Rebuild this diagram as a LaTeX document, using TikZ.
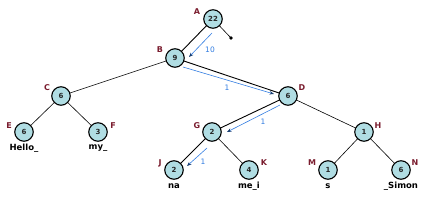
\documentclass[tikz,border=0pt]{standalone}
\usepackage{fontspec}
\setmainfont{DejaVu Sans}
\usetikzlibrary{arrows.meta}
\definecolor{nodefill}{RGB}{176,221,227}
\definecolor{lblred}{RGB}{122,28,46}
\definecolor{arrblue}{RGB}{50,125,225}
\begin{document}
\begin{tikzpicture}[x=1pt,y=-1pt,
  tnode/.style={circle,draw=black,line width=1.1pt,fill=nodefill,minimum size=18.5pt,inner sep=0pt,
     font=\fontsize{7}{8}\selectfont\bfseries,text=black!85},
  lbl/.style={font=\fontsize{8}{9}\selectfont\bfseries,text=lblred,inner sep=0pt},
  word/.style={font=\fontsize{8.5}{9}\selectfont\bfseries,inner sep=0pt},
  edge/.style={draw=black,line width=0.6pt},
  pathedge/.style={draw=black,line width=0.9pt},
  barrow/.style={draw=arrblue,line width=0.6pt,-{Stealth[length=4.5pt,width=3.5pt,color=arrblue!50!black]}},
  blbl/.style={font=\fontsize{7.5}{8}\selectfont,text=arrblue,inner sep=0pt}]
\useasboundingbox (0,0) rectangle (427,200);
\coordinate (dot) at (231,38);
\path (213,19) coordinate (pA) (175,58) coordinate (pB) (61,96) coordinate (pC) (288,96) coordinate (pD)
  (24,132) coordinate (pE) (98,132) coordinate (pF) (212,132) coordinate (pG) (364,132) coordinate (pH)
  (174,170) coordinate (pJ) (249,170) coordinate (pK) (328,170) coordinate (pM) (401,170) coordinate (pN);
\draw[edge] (pA) -- (dot);
\fill (dot) circle (1.8pt);
\draw[pathedge] (pA) -- (pB);
\draw[edge] (pB) -- (pC);
\draw[pathedge] (pB) -- (pD);
\draw[edge] (pC) -- (pE);
\draw[edge] (pC) -- (pF);
\draw[pathedge] (pD) -- (pG);
\draw[edge] (pD) -- (pH);
\draw[pathedge] (pG) -- (pJ);
\draw[edge] (pG) -- (pK);
\draw[edge] (pH) -- (pM);
\draw[edge] (pH) -- (pN);
% nodes
\node[tnode] (A) at (pA) {22};
\node[tnode] (B) at (pB) {9};
\node[tnode] (C) at (pC) {6};
\node[tnode] (D) at (pD) {6};
\node[tnode] (E) at (pE) {6};
\node[tnode] (F) at (pF) {3};
\node[tnode] (G) at (pG) {2};
\node[tnode] (H) at (pH) {1};
\node[tnode] (J) at (pJ) {2};
\node[tnode] (K) at (pK) {4};
\node[tnode] (M) at (pM) {1};
\node[tnode] (N) at (pN) {6};
% letter labels
\node[lbl] (lA) at (197,12) {A};
\node[lbl] (lB) at (160,50) {B};
\node[lbl] (lC) at (47,88) {C};
\node[lbl] (lD) at (302,88) {D};
\node[lbl] (lE) at (9,126) {E};
\node[lbl] (lF) at (113,126) {F};
\node[lbl] (lG) at (197,126) {G};
\node[lbl] (lH) at (378,126) {H};
\node[lbl] (lJ) at (160,163) {J};
\node[lbl] (lK) at (264,163) {K};
\node[lbl] (lM) at (312,163) {M};
\node[lbl] (lN) at (415,163) {N};
% words
\node[word] (wE) at (24,148) {Hello\_};
\node[word] (wF) at (98,148) {my\_};
\node[word] (wJ) at (174,186) {na};
\node[word] (wK) at (249,186) {me\_i};
\node[word] (wM) at (328,186) {s};
\node[word] (wN) at (401,186) {\_Simon};
% blue arrows
\coordinate (a1s) at (212,33); \coordinate (a1e) at (189,57);
\coordinate (a2s) at (183,67); \coordinate (a2e) at (274,94);
\coordinate (a3s) at (280,105); \coordinate (a3e) at (227,132);
\coordinate (a4s) at (207,148); \coordinate (a4e) at (187,166);
\draw[barrow] (a1s) -- (a1e);
\draw[barrow] (a2s) -- (a2e);
\draw[barrow] (a3s) -- (a3e);
\draw[barrow] (a4s) -- (a4e);
\node[blbl] (b1) at (210,50) {10};
\node[blbl] (b2) at (227,88) {1};
\node[blbl] (b3) at (263,122) {1};
\node[blbl] (b4) at (203,162) {1};
\end{tikzpicture}
\end{document}
